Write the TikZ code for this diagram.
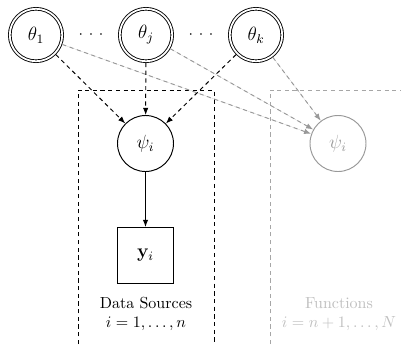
\documentclass[tikz,border=0pt]{standalone}
\usetikzlibrary{arrows.meta}
\newcommand{\spreaddots}{$\cdotp\mkern3.5mu\cdotp\mkern3.5mu\cdotp$}
\begin{document}
\begin{tikzpicture}[x=0.625pt,y=-0.625pt,
  paramnode/.style={circle,draw,double,double distance=1.1pt,line width=0.55pt,
    minimum size=32.8pt,inner sep=0pt,outer sep=1.1pt,font=\large},
  latentnode/.style={circle,draw,line width=0.6pt,minimum size=35pt,inner sep=0pt,font=\large},
  obsnode/.style={rectangle,draw,line width=0.6pt,minimum size=35pt,inner sep=0pt,font=\large},
  gapdots/.style={inner sep=0pt},
  platebox/.style={line width=0.6pt,dash pattern=on 2.6pt off 2.2pt},
  depedge/.style={-{Latex[length=4.5pt,width=3.4pt]},line width=0.6pt,dash pattern=on 2.6pt off 2.2pt},
  solidedge/.style={-{Latex[length=4.5pt,width=3.4pt]},line width=0.6pt},
  faded/.style={draw=black!40,text=black!40},
  fadededge/.style={depedge,draw=black!40,fill=black!40},
  caption/.style={align=center,inner sep=0pt}
]
\useasboundingbox (0,0) rectangle (401,344);

% plates
\draw[platebox] (78,344) -- (78,90) -- (214,90) -- (214,344);
\draw[platebox,black!35] (270,344) -- (270,90) -- (401,90);

% global parameters
\node[paramnode] (t1) at (36,35) {$\theta_1$};
\node[paramnode] (tj) at (146,35) {$\theta_j$};
\node[paramnode] (tk) at (256,35) {$\theta_k$};
\node[gapdots] (d1) at (91,35) {\spreaddots};
\node[gapdots] (d2) at (201,35) {\spreaddots};

% data-source plate
\node[latentnode] (psi) at (145.5,143.5) {$\psi_i$};
\node[obsnode] (y) at (145.5,255.5) {$\mathbf{y}_i$};
\node[caption] (dlab) at (146,314) {Data Sources\\[-0.5pt] $i=1,\ldots,n$};

% function plate
\node[latentnode,faded] (psig) at (338,143.5) {$\psi_i$};
\node[caption,text=black!25] (flab) at (339,314) {Functions\\[-0.5pt] $i=n+1,\ldots,N$};

% edges
\draw[fadededge] (t1) -- (psig);
\draw[fadededge] (tj) -- (psig);
\draw[fadededge] (tk) -- (psig);
\draw[depedge] (t1) -- (psi);
\draw[depedge] (tj) -- (psi);
\draw[depedge] (tk) -- (psi);
\draw[solidedge] (psi) -- (y);
\end{tikzpicture}
\end{document}
